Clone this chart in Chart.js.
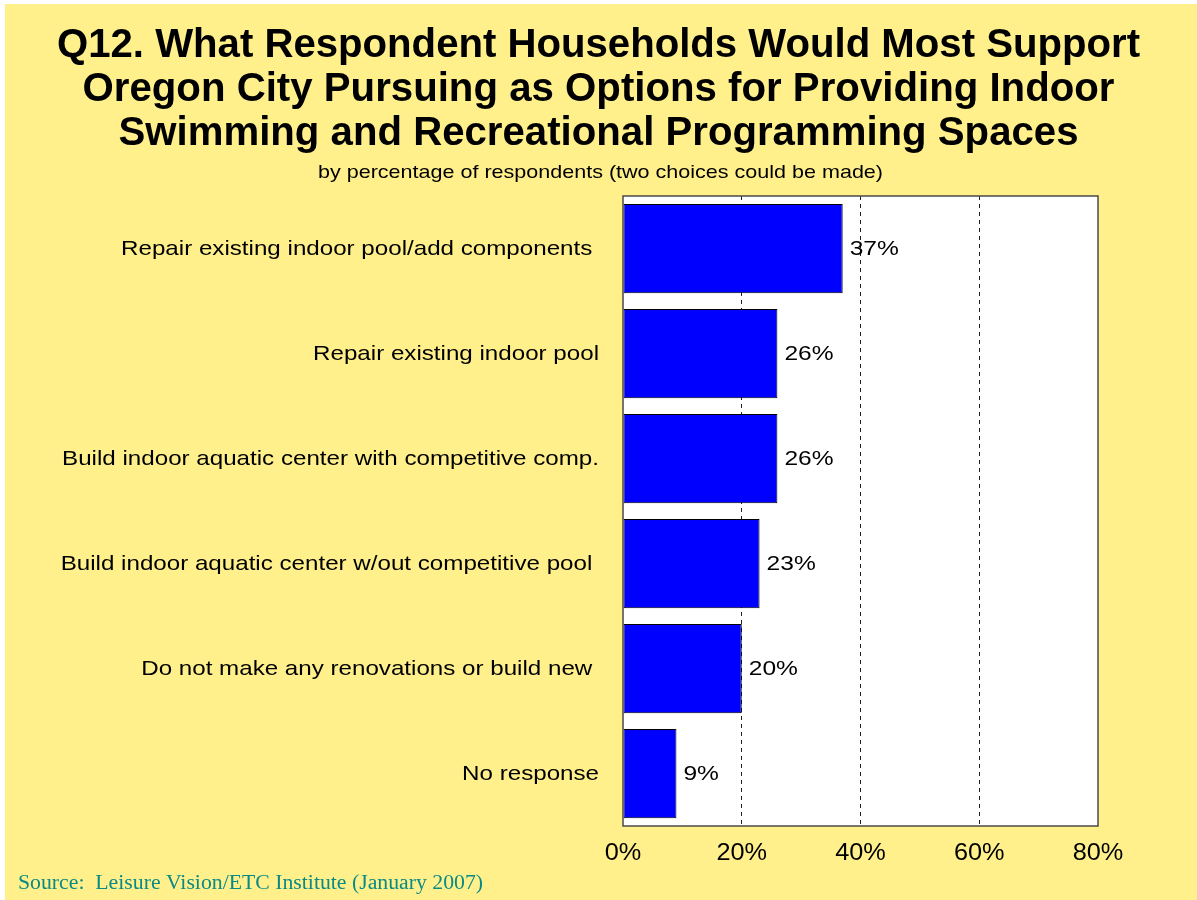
<!DOCTYPE html>
<html>
<head>
<meta charset="utf-8">
<script src="https://cdn.jsdelivr.net/npm/chart.js@4/dist/chart.umd.min.js"></script>
<style>
    html, body { margin: 0; padding: 0; background: #ffffff; }
    #wrap { width: 1197px; height: 900px; position: relative; }
</style>
</head>
<body>
<div id="wrap"><canvas id="surveyChart" width="1197" height="900"></canvas></div>
<script>
// Survey answers, top to bottom
const categories = [
    'Repair existing indoor pool/add components ',
    'Repair existing indoor pool',
    'Build indoor aquatic center with competitive comp.',
    'Build indoor aquatic center w/out competitive pool ',
    'Do not make any renovations or build new ',
    'No response'
];
const percentValues = [37, 26, 26, 23, 20, 9];
const tickValues = [0, 20, 40, 60, 80];

const titleLines = [
    'Q12. What Respondent Households Would Most Support',
    'Oregon City Pursuing as Options for Providing Indoor',
    'Swimming and Recreational Programming Spaces'
];
const subtitleText = 'by percentage of respondents (two choices could be made)';
const sourceText = 'Source:  Leisure Vision/ETC Institute (January 2007)';

const SANS = '"Liberation Sans", Arial, sans-serif';

// The slide's text is rendered wide, so every string is stretched horizontally.
function drawWide(ctx, text, x, y, align, sx) {
    const w = ctx.measureText(text).width * sx;
    let left = x;
    if (align === 'center') left = x - w / 2;
    else if (align === 'right') left = x - w;
    ctx.save();
    ctx.textAlign = 'left';
    ctx.translate(left, y);
    ctx.scale(sx, 1);
    ctx.fillText(text, 0, 0);
    ctx.restore();
}

// Same idea, but fitted to a known line width
function drawFitted(ctx, text, cx, y, width) {
    const sx = width / ctx.measureText(text).width;
    drawWide(ctx, text, cx, y, 'center', sx);
}

// Yellow slide background, title block and source line
const slidePlugin = {
    id: 'slide',
    beforeDraw(chart) {
        const ctx = chart.ctx;
        ctx.save();
        ctx.fillStyle = '#ffffff';
        ctx.fillRect(0, 0, chart.width, chart.height);
        ctx.fillStyle = '#fff08c';
        ctx.fillRect(5, 4, chart.width - 5, chart.height - 4);

        // plot background
        const a = chart.chartArea;
        ctx.fillStyle = '#ffffff';
        ctx.fillRect(a.left, a.top, a.right - a.left, a.bottom - a.top);

        ctx.fillStyle = '#000000';
        ctx.textBaseline = 'alphabetic';
        ctx.font = 'bold 40px ' + SANS;
        const widths = [1083, 1032, 960];
        const baselines = [57, 101, 145];
        titleLines.forEach((line, i) => drawFitted(ctx, line, 598.5, baselines[i], widths[i]));

        ctx.font = '19px ' + SANS;
        drawFitted(ctx, subtitleText, 600.5, 178, 565);

        ctx.font = '20px "Liberation Serif", "Times New Roman", serif';
        ctx.fillStyle = '#0a8a84';
        ctx.textAlign = 'left';
        ctx.save();
        const sw = ctx.measureText(sourceText).width;
        ctx.translate(18, 889);
        ctx.scale(465 / sw, 1);
        ctx.fillText(sourceText, 0, 0);
        ctx.restore();
        ctx.restore();
    },
    afterDraw(chart) {
        const ctx = chart.ctx;
        const a = chart.chartArea;
        ctx.save();
        ctx.strokeStyle = '#4a4a4a';
        ctx.lineWidth = 1.5;
        ctx.strokeRect(a.left, a.top, a.right - a.left, a.bottom - a.top);
        ctx.restore();
    }
};

// Axis labels drawn from the scales' own tick positions
const axisLabelPlugin = {
    id: 'axisLabels',
    afterDraw(chart) {
        const ctx = chart.ctx;
        const xs = chart.scales.x;
        const ys = chart.scales.y;
        ctx.save();
        ctx.fillStyle = '#000000';
        ctx.textBaseline = 'middle';

        ctx.font = '21px ' + SANS;
        ys.ticks.forEach((t, i) => {
            const y = ys.getPixelForTick(i);
            drawWide(ctx, categories[t.value], ys.right - 24, y + 1, 'right', 1.15);
        });

        ctx.font = '23px ' + SANS;
        xs.ticks.forEach((t, i) => {
            const x = xs.getPixelForTick(i);
            drawWide(ctx, t.value + '%', x, xs.top + 28, 'center', 1.1);
        });
        ctx.restore();
    }
};

// Percentage labels to the right of each bar
const valueLabelPlugin = {
    id: 'valueLabels',
    afterDatasetsDraw(chart) {
        const ctx = chart.ctx;
        const meta = chart.getDatasetMeta(0);
        ctx.save();
        ctx.font = '21px ' + SANS;
        ctx.fillStyle = '#000000';
        ctx.textBaseline = 'middle';
        meta.data.forEach((bar, i) => {
            drawWide(ctx, percentValues[i] + '%', bar.x + 7, bar.y + 1, 'left', 1.17);
        });
        ctx.restore();
    }
};

const ctx = document.getElementById('surveyChart').getContext('2d');
new Chart(ctx, {
    type: 'bar',
    data: {
        labels: categories,
        datasets: [{
            data: percentValues,
            backgroundColor: '#0000ff',
            borderColor: '#000000',
            borderWidth: 1,
            borderSkipped: false,
            barPercentage: 0.85,
            categoryPercentage: 1.0
        }]
    },
    options: {
        indexAxis: 'y',
        responsive: false,
        animation: false,
        devicePixelRatio: 1,
        layout: {
            padding: { left: 0, right: 99, top: 196, bottom: 0 }
        },
        plugins: {
            legend: { display: false },
            tooltip: { enabled: false }
        },
        scales: {
            x: {
                min: 0,
                max: 80,
                afterBuildTicks(scale) {
                    scale.ticks = tickValues.map(v => ({ value: v }));
                },
                afterFit(scale) {
                    scale.height = 74;
                },
                grid: {
                    drawTicks: false,
                    color: c => (c.tick && (c.tick.value === 0 || c.tick.value === 80)) ? 'rgba(0,0,0,0)' : '#222222',
                    lineWidth: 1
                },
                border: { display: false, dash: [4, 4] },
                ticks: { display: false }
            },
            y: {
                afterFit(scale) {
                    scale.width = 623;
                },
                grid: { display: false, drawTicks: false },
                border: { display: false },
                ticks: { display: false }
            }
        }
    },
    plugins: [slidePlugin, axisLabelPlugin, valueLabelPlugin]
});
</script>
</body>
</html>
